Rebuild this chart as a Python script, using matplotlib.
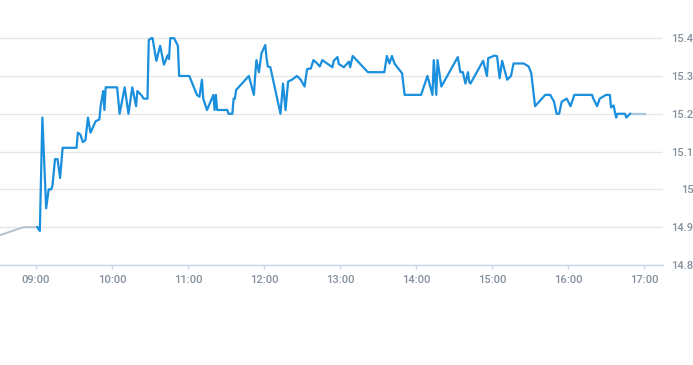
import numpy as np
import matplotlib
matplotlib.use("Agg")
import matplotlib.pyplot as plt

# intraday price, session line
times = ["9:01", "9:03", "9:05", "9:08", "9:10", "9:12", "9:13", "9:15", "9:17", "9:19",
         "9:21", "9:32", "9:33", "9:35", "9:37", "9:39", "9:41", "9:43", "9:47", "9:50",
         "9:51", "9:53", "9:54", "9:55", "10:04", "10:06", "10:10", "10:13", "10:16", "10:19",
         "10:20", "10:23", "10:25", "10:28", "10:29", "10:31", "10:32", "10:35", "10:38", "10:41",
         "10:44", "10:45", "10:46", "10:49", "10:52", "10:53", "11:01", "11:07", "11:09", "11:11",
         "11:12", "11:15", "11:20", "11:21", "11:22", "11:23", "11:31", "11:32", "11:35", "11:36",
         "11:37", "11:38", "11:48", "11:52", "11:53", "11:54", "11:56", "11:58", "12:01", "12:02",
         "12:03", "12:05", "12:13", "12:15", "12:17", "12:19", "12:22", "12:26", "12:29", "12:32",
         "12:34", "12:37", "12:39", "12:42", "12:44", "12:46", "12:51", "12:54", "12:55", "12:58",
         "12:59", "13:03", "13:07", "13:08", "13:10", "13:22", "13:35", "13:37", "13:39", "13:41",
         "13:43", "13:49", "13:51", "14:04", "14:09", "14:13", "14:14", "14:16", "14:17", "14:20",
         "14:33", "14:35", "14:37", "14:39", "14:41", "14:42", "14:43", "14:53", "14:56", "14:57",
         "15:02", "15:04", "15:06", "15:08", "15:12", "15:15", "15:17", "15:25", "15:29", "15:31",
         "15:34", "15:42", "15:46", "15:49", "15:51", "15:53", "15:55", "15:59", "16:02", "16:05",
         "16:19", "16:20", "16:23", "16:25", "16:30", "16:33", "16:34", "16:36", "16:37", "16:38",
         "16:39", "16:45", "16:46", "16:49"]
prices = [14.90, 14.89, 15.19, 14.95, 15.00, 15.00, 15.01, 15.08, 15.08, 15.03,
          15.11, 15.11, 15.15, 15.145, 15.125, 15.13, 15.19, 15.15, 15.18, 15.185,
          15.22, 15.26, 15.21, 15.27, 15.27, 15.20, 15.27, 15.20, 15.27, 15.22,
          15.26, 15.25, 15.24, 15.24, 15.395, 15.40, 15.40, 15.34, 15.38, 15.33,
          15.355, 15.345, 15.40, 15.40, 15.38, 15.30, 15.30, 15.25, 15.245, 15.29,
          15.24, 15.21, 15.25, 15.21, 15.25, 15.21, 15.21, 15.20, 15.20, 15.24,
          15.24, 15.263, 15.30, 15.25, 15.30, 15.342, 15.31, 15.36, 15.382, 15.347,
          15.325, 15.323, 15.20, 15.28, 15.21, 15.285, 15.29, 15.30, 15.29, 15.272,
          15.318, 15.32, 15.342, 15.333, 15.325, 15.342, 15.33, 15.323, 15.34, 15.35,
          15.332, 15.323, 15.338, 15.323, 15.353, 15.31, 15.31, 15.353, 15.333, 15.353,
          15.333, 15.307, 15.25, 15.25, 15.30, 15.25, 15.342, 15.25, 15.342, 15.272,
          15.35, 15.31, 15.31, 15.28, 15.31, 15.285, 15.28, 15.34, 15.30, 15.347,
          15.354, 15.352, 15.294, 15.34, 15.29, 15.30, 15.333, 15.333, 15.325, 15.307,
          15.22, 15.25, 15.25, 15.232, 15.20, 15.20, 15.232, 15.24, 15.22, 15.25,
          15.25, 15.24, 15.22, 15.24, 15.25, 15.25, 15.217, 15.222, 15.205, 15.19,
          15.20, 15.20, 15.19, 15.20]

# pre-market and after-close (greyed)
pre_times = ["8:30", "8:50", "9:01"]
pre_prices = [14.877, 14.90, 14.90]
post_times = ["16:49", "17:01"]
post_prices = [15.20, 15.20]

tick_hours = [9, 10, 11, 12, 13, 14, 15, 16, 17]
y_ticks = [14.8, 14.9, 15.0, 15.1, 15.2, 15.3, 15.4]
y_labels = ["14.8", "14.9", "15", "15.1", "15.2", "15.3", "15.4"]


def to_hours(lst):
    out = []
    for s in lst:
        h, m = s.split(":")
        out.append(int(h) + int(m) / 60.0)
    return np.array(out)


plt.rcParams['font.family'] = ['Liberation Sans Narrow', 'Roboto', 'DejaVu Sans']

fig = plt.figure(figsize=(6.93, 3.65), dpi=100)
ax = fig.add_axes([0.0, 0.274, 663 / 693, 0.9058 - 0.274])

ax.plot(to_hours(pre_times), pre_prices, color="#b4c2cb", linewidth=1.4)
ax.plot(to_hours(post_times), post_prices, color="#a9c6de", linewidth=1.6)
ax.plot(to_hours(times), prices, color="#1a8fdd", linewidth=1.6)

ax.set_xlim(8.526, 17.25)
ax.set_ylim(14.8, 15.41)

ax.set_yticks(y_ticks)
ax.set_yticklabels(y_labels)
ax.set_xticks(tick_hours)
ax.set_xticklabels(["%02d:00" % h for h in tick_hours])

ax.grid(axis="y", color="#e6e6e6", linewidth=1)
ax.set_axisbelow(True)
for side in ["top", "left", "right"]:
    ax.spines[side].set_visible(False)
ax.spines["bottom"].set_color("#ccd6eb")
ax.spines["bottom"].set_linewidth(1)

ax.yaxis.tick_right()
ax.tick_params(axis="y", length=0, pad=22, labelsize=8, labelcolor="#84909c")
for lab in ax.get_yticklabels():
    lab.set_horizontalalignment("right")
    lab.set_fontweight("medium")
ax.tick_params(axis="x", length=3, width=1, color="#ccd6eb", pad=4, labelsize=8, labelcolor="#84909c")
for lab in ax.get_xticklabels():
    lab.set_fontweight("medium")

fig.savefig("out.png", dpi=100)
